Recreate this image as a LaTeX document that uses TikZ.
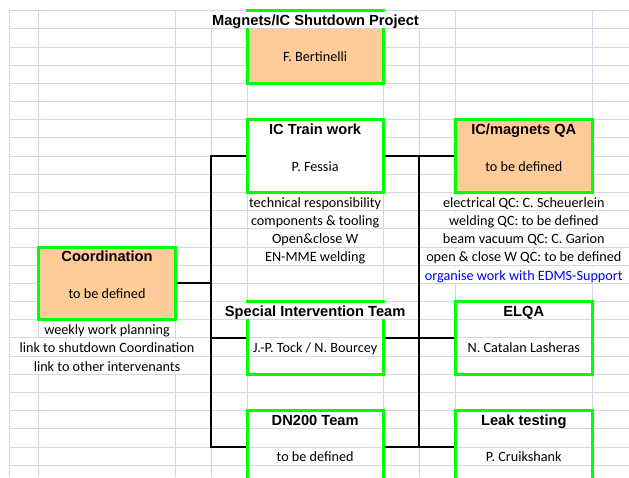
\documentclass[tikz,border=0pt]{standalone}
\usepackage{fontspec}
\setmainfont{Carlito}
\newfontfamily\ttlfont{Liberation Sans}
\definecolor{gridc}{HTML}{D0D7E5}
\definecolor{boxorange}{HTML}{FFCC99}
\definecolor{boxgreen}{HTML}{00FF00}
\definecolor{linkblue}{HTML}{0000FF}
\newcommand\bodyf{\fontsize{14.2}{16}\selectfont}
\newcommand\ttlf{\ttlfont\bfseries\fontsize{14.65}{16}\selectfont}
\tikzset{
  gridline/.style={draw=gridc, line width=1},
  orgbox/.style={draw=boxgreen, line width=3, inner sep=0, minimum width=136.3, minimum height=72.72},
  cellt/.style={font=\bodyf, fill=white, inner xsep=1, inner ysep=0, text height=13.38, text depth=2.8, anchor=base},
  cellin/.style={cellt, fill=none},
  ttlt/.style={cellt, font=\ttlf},
  ttlin/.style={ttlt, fill=none},
  conn/.style={draw=black, line width=2}
}
\begin{document}
\begin{tikzpicture}[x=1pt,y=-1pt]
\useasboundingbox (0,0) rectangle (629,477);
\clip (0,0) rectangle (629,477);
% grid
\foreach \k in {0,...,25} \draw[gridline] (9.3,{10.7+18.18*\k}) -- (629,{10.7+18.18*\k});
\foreach \x in {9.3,38.3,175.7,211.3,247,383.3,419.3,455.3,592.3} \draw[gridline] (\x,10.7) -- (\x,477);
% boxes
\fill[boxorange] (247,28.88) rectangle (383.3,83.42);
\node[orgbox] (bert) at (315.15,47.06) {};
\node[orgbox, fill=white] (train) at (315.15,156.14) {};
\node[orgbox, fill=boxorange, minimum width=137] (qa) at (523.8,156.14) {};
\node[orgbox, fill=boxorange, minimum width=137.4] (coord) at (107,283.4) {};
\node[orgbox] (special) at (315.15,337.94) {};
\node[orgbox, minimum width=137] (elqa) at (523.8,337.94) {};
\node[orgbox] (dn) at (315.15,447.02) {};
\node[orgbox, minimum width=137] (leak) at (523.8,447.02) {};
% texts
\node[ttlt] (title) at (315.5,25.58) {Magnets/IC Shutdown Project};
\node[cellin] (bertn) at (315.15,61.94) {F. Bertinelli};
\node[ttlin] (traint) at (315.15,134.66) {IC Train work};
\node[cellin] (trainn) at (315.15,171.02) {P. Fessia};
\node[cellt] (tr1) at (315.15,207.38) {technical responsibility};
\node[cellt] (tr2) at (315.15,225.56) {components \& tooling};
\node[cellt] (tr3) at (315.15,243.74) {Open\&close W};
\node[cellt] (tr4) at (315.15,261.92) {EN-MME welding};
\node[ttlin] (qat) at (523.8,134.66) {IC/magnets QA};
\node[cellin] (qan) at (523.8,171.02) {to be defined};
\node[cellt] (qa1) at (523.8,207.38) {electrical QC: C. Scheuerlein};
\node[cellt] (qa2) at (523.8,225.56) {welding QC: to be defined};
\node[cellt] (qa3) at (523.8,243.74) {beam vacuum QC: C. Garion};
\node[cellt] (qa4) at (523.8,261.92) {open \& close W QC: to be defined};
\node[cellt, text=linkblue] (qa5) at (523.8,280.1) {organise work with EDMS-Support};
\node[ttlin] (coordt) at (107,261.92) {Coordination};
\node[cellin] (coordn) at (107,298.28) {to be defined};
\node[cellt] (co1) at (107,334.64) {weekly work planning};
\node[cellt] (co2) at (107,352.82) {link to shutdown Coordination};
\node[cellt] (co3) at (107,371.0) {link to other intervenants};
\node[ttlt] (spect) at (315.15,316.46) {Special Intervention Team};
\node[cellt] (specn) at (315.15,352.82) {J.-P. Tock / N. Bourcey};
\node[ttlt] (elqat) at (523.8,316.46) {ELQA};
\node[cellt] (elqan) at (523.8,352.82) {N. Catalan Lasheras};
\node[ttlt] (dnt) at (315.15,425.54) {DN200 Team};
\node[cellt] (dnn) at (315.15,461.9) {to be defined};
\node[ttlt] (leakt) at (523.8,425.54) {Leak testing};
\node[cellt] (leakn) at (523.8,461.9) {P. Cruikshank};
% connectors
\coordinate (lbus) at (211.3,0);
\coordinate (rbus) at (419.3,0);
\draw[conn] (train.west) -- (lbus |- train.west) -- (lbus |- dn.west) -- (dn.west);
\draw[conn] (coord.east) -- (lbus |- coord.east);
\draw[conn] (special.west) -- (lbus |- special.west);
\draw[conn] (train.east) -- (qa.west);
\draw[conn] (rbus |- train.east) -- (rbus |- leak.west);
\draw[conn] (special.east) -- (elqa.west);
\draw[conn] (dn.east) -- (leak.west);
\end{tikzpicture}
\end{document}
